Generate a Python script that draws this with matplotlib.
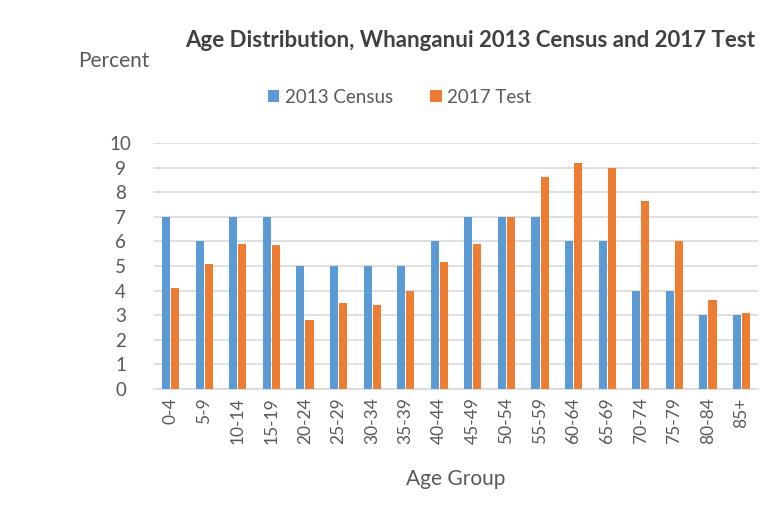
import matplotlib
matplotlib.use("Agg")
import matplotlib.pyplot as plt
import numpy as np

age_groups = ["0-4", "5-9", "10-14", "15-19", "20-24", "25-29", "30-34", "35-39",
              "40-44", "45-49", "50-54", "55-59", "60-64", "65-69", "70-74",
              "75-79", "80-84", "85+"]
census_2013 = [7, 6, 7, 7, 5, 5, 5, 5, 6, 7, 7, 7, 6, 6, 4, 4, 3, 3]
test_2017 = [4.1, 5.1, 5.9, 5.85, 2.8, 3.5, 3.4, 4.0, 5.15, 5.9, 7.0, 8.6,
             9.2, 9.0, 7.65, 6.0, 3.6, 3.1]
y_ticks = list(range(0, 11))

BLUE = "#5B9BD5"
ORANGE = "#ED7D31"
TXT = "#595959"
plt.rcParams["font.family"] = ["Lato", "DejaVu Sans"]

fig = plt.figure(figsize=(7.73, 5.18), dpi=100)
ax = fig.add_axes([0.199, 0.249, 0.782, 0.475])

x = np.arange(len(age_groups))
w = 0.24
ax.bar(x - w / 2 - 0.015, census_2013, width=w, color=BLUE, label="2013 Census", zorder=3)
ax.bar(x + w / 2 + 0.015, test_2017, width=w, color=ORANGE, label="2017 Test", zorder=3)

ax.set_xlim(-0.5, len(age_groups) - 0.5)
ax.set_ylim(0, 10)
ax.set_yticks(y_ticks)
ax.set_xticks(x)
ax.set_xticklabels(age_groups, rotation=90)
ax.tick_params(axis="both", length=0, colors=TXT)
ax.tick_params(axis="x", pad=6, labelsize=12.5)
ax.tick_params(axis="y", pad=24, labelsize=13.5)
for lbl in ax.get_yticklabels():
    lbl.set_horizontalalignment("center")
ax.grid(axis="y", color="#D9D9D9", linewidth=1.2, zorder=0)
for s in ["top", "right", "left"]:
    ax.spines[s].set_visible(False)
ax.spines["bottom"].set_color("#D9D9D9")
ax.spines["bottom"].set_linewidth(1.2)

ax.set_xlabel("Age Group", fontsize=15, color=TXT, labelpad=18)

fig.text(0.608, 0.922, "Age Distribution, Whanganui 2013 Census and 2017 Test",
         ha="center", va="center", fontsize=16, fontweight="bold", color="#404040")
fig.text(0.101, 0.882, "Percent", ha="left", va="center", fontsize=15, color=TXT)

ax.legend(loc="center", bbox_to_anchor=(0.517, 0.812), bbox_transform=fig.transFigure,
          ncol=2, frameon=False, fontsize=13.5, labelcolor=TXT,
          handlelength=0.6, handleheight=0.6, handletextpad=0.3, columnspacing=2.0)

fig.savefig("out.png", dpi=100)
